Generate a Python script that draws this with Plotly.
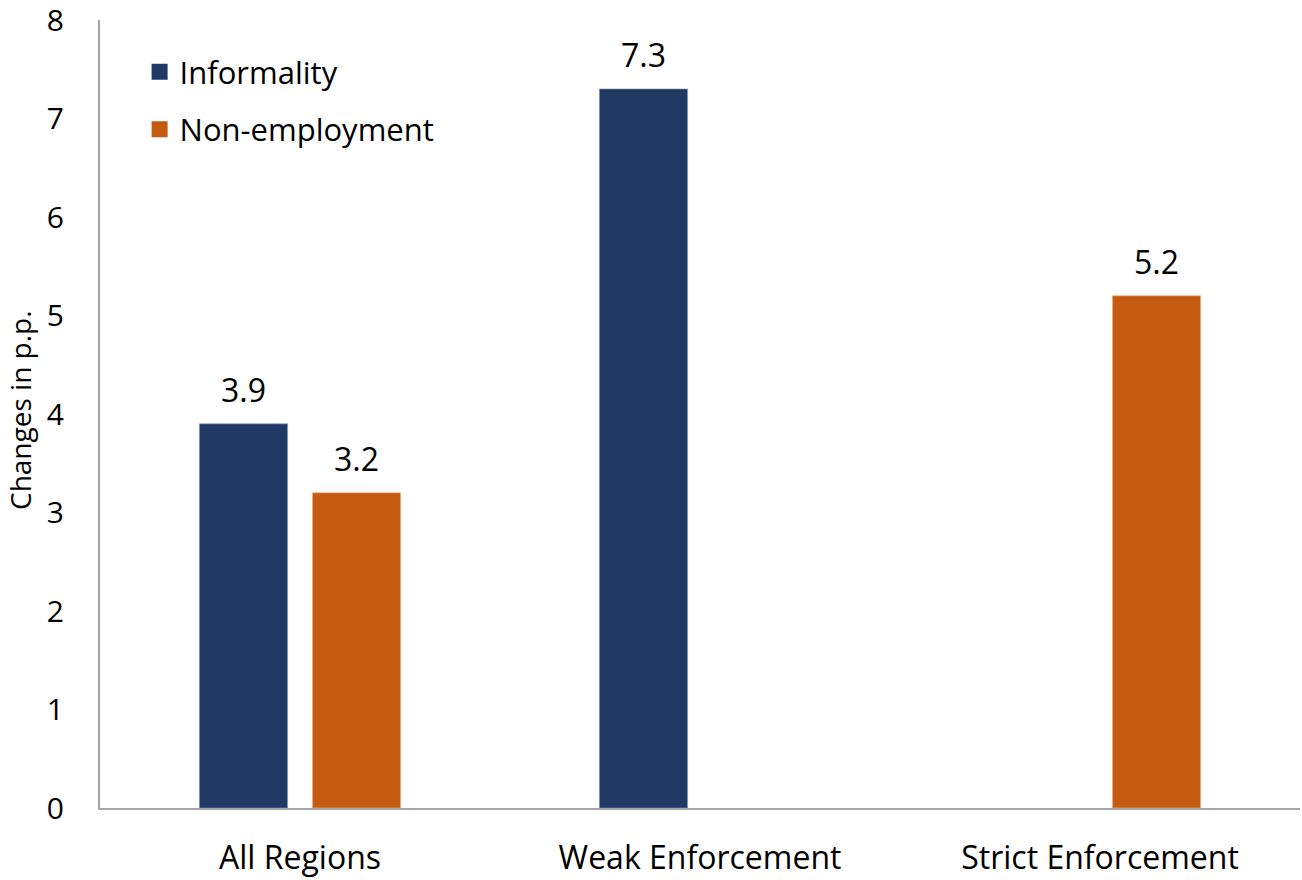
import plotly.graph_objects as go

categories = ["All Regions", "Weak Enforcement", "Strict Enforcement"]
informality = [3.9, 7.3, None]
non_employment = [3.2, None, 5.2]
y_ticks = [0, 1, 2, 3, 4, 5, 6, 7, 8]

NAVY = "#203864"
ORANGE = "#C55A11"
AXIS = "#A6A6A6"
FONT = "Open Sans"

W, H = 1302, 880
L, R, T, B = 100, 2, 20, 70
BARGAP, GROUPGAP = 0.435, 0.22

fig = go.Figure()
fig.add_trace(go.Bar(x=categories, y=informality, name="Informality",
                     marker=dict(color=NAVY, line=dict(color="#8497B0", width=0.6)),
                     showlegend=False))
fig.add_trace(go.Bar(x=categories, y=non_employment, name="Non-employment",
                     marker=dict(color=ORANGE, line=dict(color="#F4B183", width=0.6)),
                     showlegend=False))
# legend entries
fig.add_trace(go.Scatter(x=[None], y=[None], mode="markers", name="Informality",
                         marker=dict(symbol="square", size=20, color=NAVY),
                         legendgroup="a"))
fig.add_trace(go.Scatter(x=[None], y=[None], mode="markers", name="Non-employment",
                         marker=dict(symbol="square", size=20, color=ORANGE),
                         legendgroup="b"))

# data labels
plot_w = W - L - R
slot = (1 - BARGAP) * plot_w / len(categories) / 2
for series, sh in ((informality, -slot / 2), (non_employment, slot / 2)):
    for c, v in zip(categories, series):
        if v is None:
            continue
        fig.add_annotation(x=c, y=v, text=f"{v:.1f}", showarrow=False,
                           xshift=sh, yshift=11, yanchor="bottom",
                           font=dict(family=FONT, size=32, color="#000000"))

# y-axis title
fig.add_annotation(xref="paper", yref="paper", x=0, y=0.5, xshift=-80, yshift=4,
                   text="Changes in p.p.", textangle=-90, showarrow=False,
                   xanchor="center", yanchor="middle",
                   font=dict(family=FONT, size=28, color="#000000"))

fig.update_layout(
    width=W, height=H,
    margin=dict(l=L, r=R, t=T, b=B),
    paper_bgcolor="white", plot_bgcolor="white",
    barmode="group", bargap=BARGAP, bargroupgap=GROUPGAP,
    font=dict(family=FONT, color="#000000"),
    legend=dict(x=0.033, y=0.968, xanchor="left", yanchor="top",
                font=dict(family=FONT, size=31, color="#000000"),
                traceorder="grouped", tracegroupgap=14,
                bgcolor="rgba(0,0,0,0)", itemsizing="trace"),
    xaxis=dict(showline=True, linecolor=AXIS, linewidth=2, showgrid=False,
               ticks="", tickfont=dict(family=FONT, size=32, color="#000000"),
               ticklabelstandoff=21, fixedrange=True),
    yaxis=dict(range=[0, 8], tickvals=y_ticks, showline=True, linecolor=AXIS,
               linewidth=2, showgrid=False, zeroline=False, ticks="",
               tickfont=dict(family=FONT, size=30, color="#000000"),
               ticklabelstandoff=28, ticklabeloverflow="allow", automargin=False),
)

fig.write_html("out.html", config={"displayModeBar": False},
               post_script="document.body.style.margin='0';")
